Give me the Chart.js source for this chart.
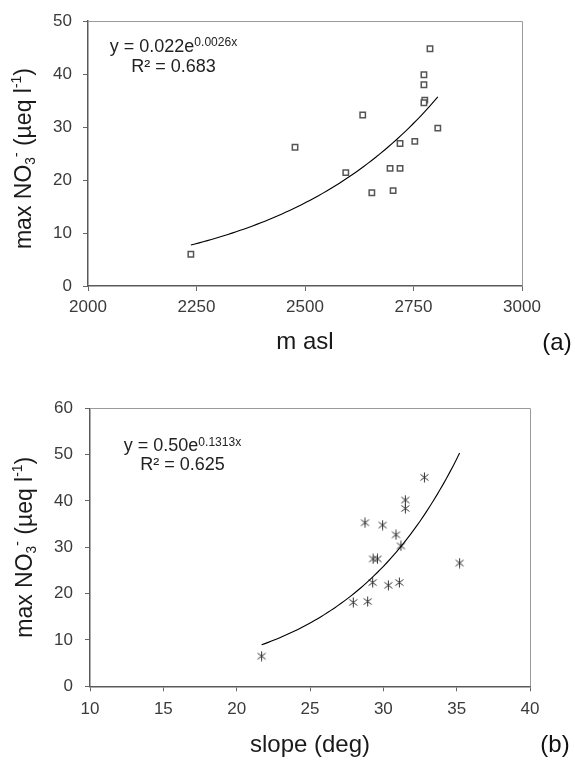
<!DOCTYPE html>
<html><head><meta charset="utf-8">
<script src="https://cdn.jsdelivr.net/npm/chart.js@4.4.1/dist/chart.umd.min.js"></script>
<style>
html,body{margin:0;padding:0;background:#fff;}
#wrap{position:relative;width:575px;height:761px;background:#fff;}
canvas{position:absolute;left:0;}
</style></head><body>
<div id="wrap">
<canvas id="ca" width="575" height="380" style="top:0px"></canvas>
<canvas id="cb" width="575" height="381" style="top:380px"></canvas>
</div>
<script>
// ---- data ----
const elevA  = [2237, 2477, 2788, 2774, 2774, 2776, 2774, 2633, 2806, 2719, 2753, 2594, 2696, 2719, 2654, 2703];
const no3A   = [6.0, 26.2, 44.8, 39.9, 38.0, 35.1, 34.6, 32.3, 29.8, 26.9, 27.3, 21.4, 22.2, 22.2, 17.6, 18.0];
const slopeB = [21.7, 32.8, 31.5, 31.5, 28.75, 29.95, 30.86, 31.2, 29.3, 29.6, 35.2, 29.27, 30.34, 31.09, 27.95, 28.93];
const no3B   = [6.5, 45.1, 40.2, 38.4, 35.3, 34.8, 32.7, 30.3, 27.5, 27.5, 26.6, 22.4, 21.8, 22.4, 18.1, 18.3];
const xTicksA = [2000, 2250, 2500, 2750, 3000];
const yTicksA = [0, 10, 20, 30, 40, 50];
const xTicksB = [10, 15, 20, 25, 30, 35, 40];
const yTicksB = [0, 10, 20, 30, 40, 50, 60];
const xTitleA = 'm asl';
const xTitleB = 'slope (deg)';
const eqA = ['y = 0.022e', '0.0026x', 'R² = 0.683'];
const eqB = ['y = 0.50e', '0.1313x', 'R² = 0.625'];
const panelA = '(a)';
const panelB = '(b)';
const yTitleSegs = [['max NO','n'],['3','sub'],['-','sup'],[' (µeq l','n'],['-1','sup'],[')','n']];

const FONT = "'Liberation Sans', Arial, Helvetica, sans-serif";
Chart.defaults.font.family = FONT;

// exponential least-squares fit (log-linear), as a spreadsheet trendline does
function expFit(xs, ys) {
  const n = xs.length;
  let sx = 0, sy = 0, sxx = 0, sxy = 0;
  for (let i = 0; i < n; i++) {
    const ly = Math.log(ys[i]);
    sx += xs[i]; sy += ly; sxx += xs[i] * xs[i]; sxy += xs[i] * ly;
  }
  const b = (n * sxy - sx * sy) / (n * sxx - sx * sx);
  const a = Math.exp((sy - b * sx) / n);
  return {a, b};
}
function trendPoints(xs, ys) {
  const f = expFit(xs, ys);
  const lo = Math.min(...xs), hi = Math.max(...xs);
  const pts = [];
  const N = 60;
  for (let i = 0; i <= N; i++) {
    const x = lo + (hi - lo) * i / N;
    pts.push({x, y: f.a * Math.exp(f.b * x)});
  }
  return pts;
}

function drawRich(ctx, segs, cx, cy, size, color, supShift, subShift, smallRatio) {
  const small = size * smallRatio;
  let total = 0;
  const widths = segs.map(([t, s]) => {
    ctx.font = (s === 'n' ? size : small) + 'px ' + FONT;
    const w = ctx.measureText(t).width;
    total += w;
    return w;
  });
  let x = cx - total / 2;
  ctx.fillStyle = color;
  ctx.textBaseline = 'middle';
  ctx.textAlign = 'left';
  segs.forEach(([t, s], i) => {
    ctx.font = (s === 'n' ? size : small) + 'px ' + FONT;
    const dy = s === 'sup' ? supShift : (s === 'sub' ? subShift : 0);
    ctx.fillText(t, x, cy + dy);
    x += widths[i];
  });
}

// asterisk marker for panel (b)
function makeAsterisk() {
  const c = document.createElement('canvas');
  c.width = 11; c.height = 11;
  const g = c.getContext('2d');
  g.strokeStyle = '#333';
  g.lineWidth = 1;
  g.beginPath();
  g.moveTo(5.5, 0.5); g.lineTo(5.5, 10.5);
  g.moveTo(1.5, 2.5); g.lineTo(9.5, 8.5);
  g.moveTo(1.5, 8.5); g.lineTo(9.5, 2.5);
  g.stroke();
  return c;
}

function decor(cfg) {
  return {
    id: 'decor' + cfg.key,
    beforeDatasetsDraw(chart) {
      const {ctx, chartArea: a} = chart;
      ctx.save();
      ctx.strokeStyle = '#9a9a9a';
      ctx.lineWidth = 1;
      ctx.beginPath();
      ctx.moveTo(a.left, Math.round(a.top) + 0.5);
      ctx.lineTo(Math.round(a.right) + 0.5, Math.round(a.top) + 0.5);
      ctx.lineTo(Math.round(a.right) + 0.5, a.bottom);
      ctx.stroke();
      ctx.restore();
    },
    afterDraw(chart) {
      const {ctx, chartArea: a} = chart;
      ctx.save();
      ctx.translate(cfg.yTitleX, (a.top + a.bottom) / 2 + cfg.yTitleDy);
      ctx.rotate(-Math.PI / 2);
      drawRich(ctx, yTitleSegs, 0, 0, 23, '#1a1a1a', -8, 6, 0.6);
      ctx.restore();

      ctx.save();
      drawRich(ctx, [[cfg.eq[0], 'n'], [cfg.eq[1], 'sup']], cfg.eqX, cfg.eqY1, 18, '#222', -4, 0, 0.67);
      drawRich(ctx, [[cfg.eq[2], 'n']], cfg.eqX, cfg.eqY2, 18, '#222', 0, 0, 1);
      ctx.font = '24px ' + FONT;
      ctx.fillStyle = '#111';
      ctx.textAlign = 'center';
      ctx.textBaseline = 'middle';
      ctx.fillText(cfg.panel, cfg.panelX, cfg.panelY);
      ctx.restore();
    }
  };
}

function axisCommon(ticksArr, pad) {
  return {
    type: 'linear',
    min: ticksArr[0],
    max: ticksArr[ticksArr.length - 1],
    afterBuildTicks: s => { s.ticks = ticksArr.map(v => ({value: v})); },
    ticks: {
      color: '#3a3a3a',
      font: {size: 17},
      padding: pad,
      maxRotation: 0,
      autoSkip: false,
      callback: v => String(v)
    },
    grid: {drawOnChartArea: false, drawTicks: true, tickLength: 5, color: '#666', lineWidth: 1},
    border: {display: true, color: '#5a5a5a', width: 1.5}
  };
}

function makeChart(id, xs, ys, marker, xT, yT, xTitle, opts) {
  const pts = xs.map((x, i) => ({x, y: ys[i]}));
  const xScale = axisCommon(xT, opts.xPad);
  xScale.title = {display: true, text: xTitle, color: '#1a1a1a', font: {size: 24}, padding: {top: 0, bottom: opts.xTitlePad}};
  xScale.afterFit = s => { s.height = opts.xH; };
  const yScale = axisCommon(yT, opts.yPad);
  yScale.afterFit = s => { s.width = opts.yW; };
  return new Chart(document.getElementById(id), {
    type: 'scatter',
    data: {
      datasets: [
        Object.assign({data: pts, order: 2}, marker),
        {data: trendPoints(xs, ys), showLine: true, pointRadius: 0, borderColor: '#000', borderWidth: 1.1, tension: 0, order: 1}
      ]
    },
    options: {
      responsive: false,
      animation: false,
      devicePixelRatio: 1,
      layout: {padding: opts.padding},
      plugins: {legend: {display: false}, tooltip: {enabled: false}},
      scales: {x: xScale, y: yScale}
    },
    plugins: [decor(opts.decor)]
  });
}

makeChart('ca', elevA, no3A,
  {pointStyle: 'rect', pointRadius: 3.8, pointBorderColor: '#555', pointBackgroundColor: '#fff', pointBorderWidth: 1.5},
  xTicksA, yTicksA, xTitleA,
  {xPad: 6, yPad: 11, xH: 94, yW: 88, xTitlePad: 23.6,
   padding: {top: 16, right: 53, left: 0, bottom: 0},
   decor: {key: 'A', yTitleX: 25, yTitleDy: 5, eq: eqA, eqX: 173.5, eqY1: 47, eqY2: 67, panel: panelA, panelX: 557, panelY: 343}});

makeChart('cb', slopeB, no3B,
  {pointStyle: makeAsterisk(), pointRadius: 5},
  xTicksB, yTicksB, xTitleB,
  {xPad: 8, yPad: 12, xH: 74.7, yW: 90, xTitlePad: 1.6,
   padding: {top: 28.3, right: 45, left: 0, bottom: 0},
   decor: {key: 'B', yTitleX: 26, yTitleDy: 0, eq: eqB, eqX: 182.5, eqY1: 66.5, eqY2: 85.5, panel: panelB, panelX: 555, panelY: 365}});
</script>
</body></html>
